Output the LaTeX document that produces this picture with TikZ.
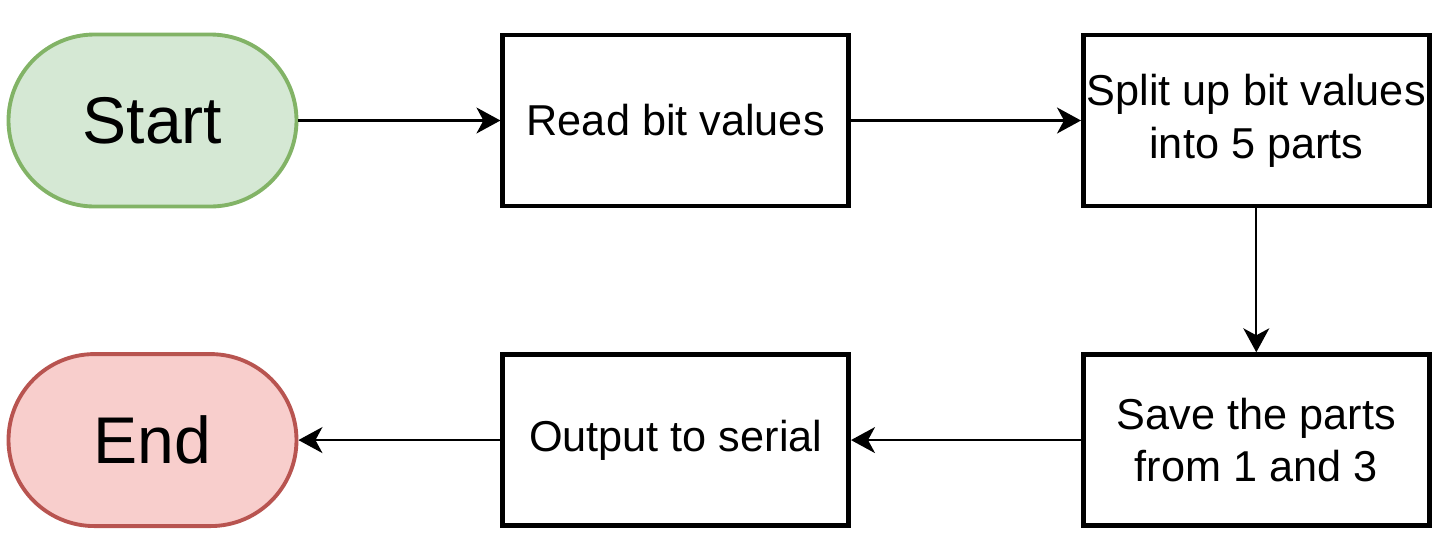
\documentclass[tikz,border=0pt]{standalone}
\usepackage{fontspec}
\setmainfont{Liberation Sans}
\usetikzlibrary{positioning,arrows.meta}

\definecolor{startfill}{HTML}{D5E8D4}
\definecolor{startline}{HTML}{82B366}
\definecolor{endfill}{HTML}{F8CECC}
\definecolor{endline}{HTML}{B85450}

\begin{document}
\begin{tikzpicture}
[
    terminal/.style={rectangle, rounded corners=0.86cm, minimum width=2.88cm, minimum height=1.72cm,
        line width=1.1pt, font=\fontsize{18.8}{22}\selectfont, inner sep=0pt},
    stepbox/.style={rectangle, draw=black, minimum width=3.46cm, minimum height=1.71cm,
        line width=1.3pt, align=center, font=\fontsize{12.3}{15}\selectfont, inner sep=0pt},
    flow/.style={-{Stealth[length=0.24cm, width=0.26cm, inset=0.07cm]}, line width=0.6pt},
]
\useasboundingbox (0,0) rectangle (14.41,-5.54);

% top row
\node [terminal, fill=startfill, draw=startline] (start) at (1.525,-1.205) {Start};
\node [stepbox, right=2.02cm of start] (read) {Read bit values};
\node [stepbox, right=2.3cm of read] (split) {Split up bit values\\into 5 parts};

% bottom row
\node [stepbox, below=1.44cm of split] (save) {Save the parts\\from 1 and 3};
\node [stepbox, left=2.3cm of save] (output) {Output to serial};
\node [terminal, fill=endfill, draw=endline, left=2.02cm of output] (end) {End};

\draw [flow] (start) -- (read);
\draw [flow] (read) -- (split);
\draw [flow] (split) -- (save);
\draw [flow] (save) -- (output);
\draw [flow] (output) -- (end);
\end{tikzpicture}
\end{document}
